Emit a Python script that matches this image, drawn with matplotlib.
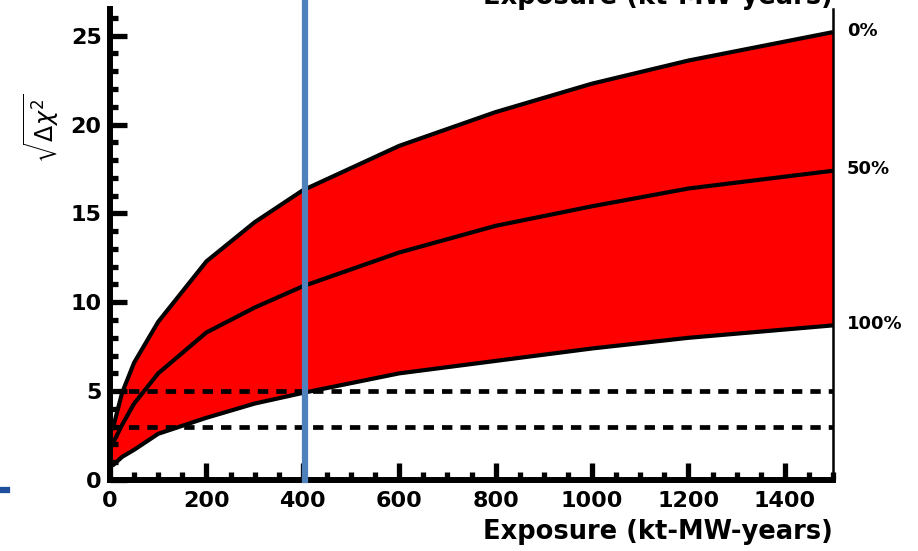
import matplotlib
matplotlib.use("Agg")
import matplotlib.pyplot as plt
from matplotlib.lines import Line2D

# exposure (kt-MW-years) and sqrt(delta chi^2) for the three curves
exposure = [5, 25, 50, 100, 200, 300, 400, 600, 800, 1000, 1200, 1500]
sens_0 = [2.8, 4.9, 6.6, 8.9, 12.3, 14.5, 16.3, 18.8, 20.7, 22.3, 23.6, 25.2]
sens_50 = [2.0, 3.1, 4.3, 6.0, 8.3, 9.7, 10.9, 12.8, 14.3, 15.4, 16.4, 17.4]
sens_100 = [0.8, 1.3, 1.7, 2.6, 3.5, 4.3, 4.9, 6.0, 6.7, 7.4, 8.0, 8.7]
curve_labels = ["0%", "50%", "100%"]
sigma_levels = [3, 5]
marker_exposure = 405
xticks = [0, 200, 400, 600, 800, 1000, 1200, 1400]
yticks = [0, 5, 10, 15, 20, 25]

plt.rcParams["font.family"] = "DejaVu Sans"
plt.rcParams["mathtext.fontset"] = "dejavusans"

fig = plt.figure(figsize=(9.18, 5.51), dpi=100)
ax = fig.add_axes([110 / 918, 1 - 480 / 551, (833 - 110) / 918, (480 - 9) / 551])

ax.fill_between(exposure, sens_100, sens_0, color="#ff0000", lw=0, zorder=1)
for ys in (sens_0, sens_50, sens_100):
    ax.plot(exposure, ys, color="black", lw=3, solid_capstyle="butt", zorder=3)

for s in sigma_levels:
    ax.plot([0, 1500], [s, s], color="black", lw=3.4, dashes=(2.2, 1.7), zorder=4)

for ys, lab in zip((sens_0, sens_50, sens_100), curve_labels):
    ax.annotate(lab, xy=(exposure[-1], ys[-1]), xytext=(10, 1), textcoords="offset points",
                ha="left", va="center", fontsize=13, fontweight="bold", annotation_clip=False)

ax.axvline(marker_exposure, ymin=0, ymax=480 / 471, color="#4f81bd", lw=4.5,
           clip_on=False, zorder=5)

ax.set_xlim(0, 1500)
ax.set_ylim(0, 26.5)
ax.set_xticks(xticks)
ax.set_yticks(yticks)
ax.set_xticks(range(0, 1501, 50), minor=True)
ax.set_yticks(range(0, 27, 1), minor=True)
ax.tick_params(which="major", direction="in", length=12.5, width=3.8, labelsize=16, pad=8)
ax.tick_params(which="minor", direction="in", length=6, width=3.8)
ax.tick_params(axis="y", pad=6)
for lbl in ax.get_xticklabels() + ax.get_yticklabels():
    lbl.set_fontweight("bold")

ax.spines["top"].set_visible(False)
ax.spines["left"].set_linewidth(4.3)
ax.spines["bottom"].set_linewidth(4.3)
ax.spines["right"].set_linewidth(1.8)

ax.set_xlabel("Exposure (kt-MW-years)", fontsize=18.5, fontweight="bold", loc="right", labelpad=6)
fig.text(42 / 918, 1 - 128 / 551, r"$\sqrt{\Delta\chi^2}$", rotation=90, fontsize=17,
         ha="center", va="center")

# slide fragments cut off by the crop
fig.text(833 / 918, 1 - 4 / 551, "Exposure (kt-MW-years)", fontsize=18.5, fontweight="bold",
         ha="right", va="baseline")
fig.add_artist(Line2D([0, 7 / 918], [1 - 490 / 551, 1 - 490 / 551], color="#1f4e9a", lw=4.5))

fig.savefig("out.png", dpi=100)
